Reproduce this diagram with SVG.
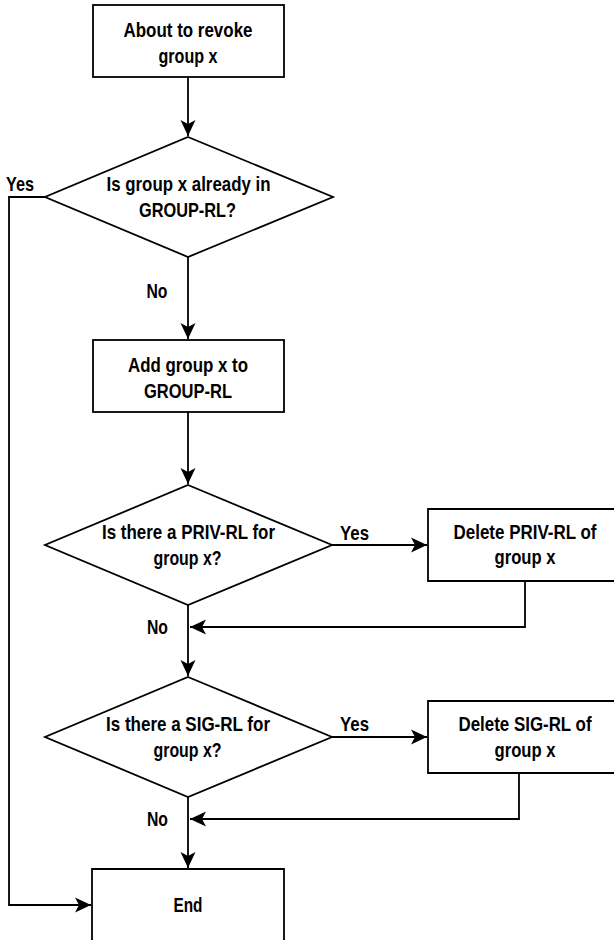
<svg xmlns="http://www.w3.org/2000/svg" width="614" height="940" viewBox="0 0 614 940">
  <defs>
    <style>
      .shape { fill: #ffffff; stroke: #000000; stroke-width: 1.8; }
      .edge { fill: none; stroke: #000000; stroke-width: 1.8; }
      text { font-family: "Liberation Sans Narrow", "Liberation Sans", Arial, sans-serif; font-size: 21px; font-weight: bold; fill: #000000; }
      .c { text-anchor: middle; }
    </style>
    <marker id="arrow" viewBox="-17 -8 17 16" refX="0" refY="0" markerWidth="17" markerHeight="16" markerUnits="userSpaceOnUse" orient="auto">
      <path d="M0,0 L-16,-7.5 L-12,0 L-16,7.5 Z" fill="#000000"/>
    </marker>
  </defs>

  <rect width="614" height="940" fill="#ffffff"/>

  <!-- connectors -->
  <g id="connectors">
    <path class="edge" d="M188,77 L188,136" marker-end="url(#arrow)"/>
    <path class="edge" d="M188,257 L188,339" marker-end="url(#arrow)"/>
    <path class="edge" d="M45,197 L9,197 L9,905 L91,905" marker-end="url(#arrow)"/>
    <path class="edge" d="M188,412 L188,484" marker-end="url(#arrow)"/>
    <path class="edge" d="M332,545 L427,545" marker-end="url(#arrow)"/>
    <path class="edge" d="M188,605 L188,676" marker-end="url(#arrow)"/>
    <path class="edge" d="M525,581 L525,627 L190,627" marker-end="url(#arrow)"/>
    <path class="edge" d="M332,737 L427,737" marker-end="url(#arrow)"/>
    <path class="edge" d="M188,797 L188,868" marker-end="url(#arrow)"/>
    <path class="edge" d="M519,773 L519,819 L190,819" marker-end="url(#arrow)"/>
    <text x="20" y="191" class="c" textLength="28" lengthAdjust="spacingAndGlyphs">Yes</text>
    <text x="157" y="298" class="c" textLength="21" lengthAdjust="spacingAndGlyphs">No</text>
    <text x="354.5" y="540" class="c" textLength="29" lengthAdjust="spacingAndGlyphs">Yes</text>
    <text x="157.5" y="634" class="c" textLength="21" lengthAdjust="spacingAndGlyphs">No</text>
    <text x="354.5" y="731" class="c" textLength="29" lengthAdjust="spacingAndGlyphs">Yes</text>
    <text x="157.5" y="826" class="c" textLength="21" lengthAdjust="spacingAndGlyphs">No</text>
  </g>

  <g id="start">
    <rect class="shape" x="93" y="5" width="191" height="72"/>
    <text x="188" y="37" class="c" textLength="129" lengthAdjust="spacingAndGlyphs">About to revoke</text>
    <text x="188" y="63" class="c" textLength="59" lengthAdjust="spacingAndGlyphs">group x</text>
  </g>

  <g id="check-group-rl">
    <polygon class="shape" points="188,137 333,197 188,257 45,197"/>
    <text x="188.5" y="191" class="c" textLength="164" lengthAdjust="spacingAndGlyphs">Is group x already in</text>
    <text x="187.5" y="217" class="c" textLength="97" lengthAdjust="spacingAndGlyphs">GROUP-RL?</text>
  </g>

  <g id="add-group">
    <rect class="shape" x="93" y="340" width="191" height="72"/>
    <text x="188" y="372" class="c" textLength="120" lengthAdjust="spacingAndGlyphs">Add group x to</text>
    <text x="188" y="398" class="c" textLength="88" lengthAdjust="spacingAndGlyphs">GROUP-RL</text>
  </g>

  <g id="check-priv-rl">
    <polygon class="shape" points="188,485 332,545 188,605 45,545"/>
    <text x="188.5" y="539" class="c" textLength="173" lengthAdjust="spacingAndGlyphs">Is there a PRIV-RL for</text>
    <text x="187.5" y="565" class="c" textLength="68" lengthAdjust="spacingAndGlyphs">group x?</text>
  </g>

  <!-- boxes running past the right edge: open on that side -->
  <g id="delete-priv-rl">
    <path class="shape" d="M615,509 H428 V581 H615"/>
    <text transform="translate(525,539) scale(0.8,1)" class="c" textLength="178.75" lengthAdjust="spacingAndGlyphs">Delete PRIV-RL of</text>
    <text x="525" y="564" class="c" textLength="61" lengthAdjust="spacingAndGlyphs">group x</text>
  </g>

  <g id="check-sig-rl">
    <polygon class="shape" points="188,677 332,737 188,797 45,737"/>
    <text x="188" y="731" class="c" textLength="164" lengthAdjust="spacingAndGlyphs">Is there a SIG-RL for</text>
    <text x="187.5" y="757" class="c" textLength="68" lengthAdjust="spacingAndGlyphs">group x?</text>
  </g>

  <g id="delete-sig-rl">
    <path class="shape" d="M615,701 H428 V773 H615"/>
    <text transform="translate(525,731) scale(0.8,1)" class="c" textLength="166.25" lengthAdjust="spacingAndGlyphs">Delete SIG-RL of</text>
    <text x="525" y="757" class="c" textLength="61" lengthAdjust="spacingAndGlyphs">group x</text>
  </g>

  <!-- end box runs past the bottom edge -->
  <g id="end">
    <path class="shape" d="M92,941 V869 H284 V941"/>
    <text x="188" y="912" class="c" textLength="29" lengthAdjust="spacingAndGlyphs">End</text>
  </g>
</svg>
